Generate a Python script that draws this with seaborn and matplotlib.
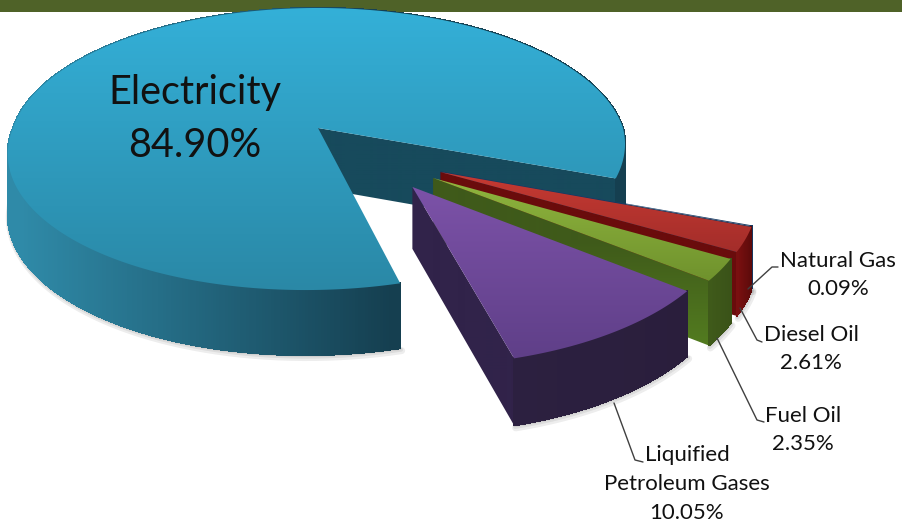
import numpy as np
import matplotlib
matplotlib.use("Agg")
import matplotlib.pyplot as plt
from matplotlib.colors import to_rgb
from matplotlib.patches import Polygon
import seaborn as sns

# ---- data ----
categories = ["Electricity", "Natural Gas", "Diesel Oil", "Fuel Oil", "Liquified\nPetroleum Gases"]
values = [84.90, 0.09, 2.61, 2.35, 10.05]

# ---- style / layout ----
top_colors = sns.color_palette(["#34b0d8", "#1f4f7a", "#c63a32", "#90b53e", "#7c52a8"])
top_dark = ["#2a88a6", "#17375e", "#a32d2a", "#6f922d", "#5f3f88"]
arc_light = ["#2f8aa8", "#17375e", "#7a1010", "#3f5a1a", "#2c2040"]
arc_dark = ["#153f50", "#17375e", "#5a0a0a", "#3a5218", "#2a1e3c"]
cut_colors = ["#174a5c", "#17375e", "#6a0c0c", "#3f5a1a", "#31234a"]
cut_front = ["#174a5c", "#17375e", "#6a0c0c", "#537c20", "#31234a"]
offsets = [(0.0, 0.0), (0.394, -0.300), (0.394, -0.305), (0.370, -0.344), (0.305, -0.402)]
radii = [1.0, 0.975, 0.975, 0.975, 0.97]
end_angle = -20.3      # where the first slice ends, clockwise
CX, CY = 318.0, 128.0
A, B, K, SHEAR = 137.9, 305.0, 0.149, 0.035
DEPTH = 60.0

sns.set_theme(style="white")
plt.rcParams["font.family"] = ["Lato", "DejaVu Sans"]

fig = plt.figure(figsize=(9.03, 5.26), dpi=100)
ax = fig.add_axes([0, 0, 1, 1])


def proj(u, v, depth=0.0):
    u, v = np.asarray(u, float), np.asarray(v, float)
    w = 1 + K * v
    return np.column_stack([CX + B * (u + SHEAR * np.minimum(v, 0)) / w,
                            CY - A * v / w + depth * DEPTH / np.sqrt(w)])


def gradient_fill(poly, c0, c1, y0, y1, z):
    t = np.clip((np.arange(526) - y0) / (y1 - y0), 0, 1)[:, None, None]
    img = (1 - t) * np.array(to_rgb(c0))[None, None] + t * np.array(to_rgb(c1))[None, None]
    im = ax.imshow(img, extent=[0, 903, 526, 0], aspect="auto", zorder=z, interpolation="bilinear")
    im.set_clip_path(Polygon(poly, closed=True, transform=ax.transData))


# header band
ax.fill_between([0, 903], 0, 12, color="#4f6228", lw=0, zorder=1)

# slices run clockwise starting so that the first one ends at end_angle
sweeps = np.array(values) / 100 * 360
start = end_angle + sweeps[0]
z = 2
for i, sweep in enumerate(sweeps):
    a0, a1 = start, start - sweep
    start = a1
    ang = np.radians(np.linspace(a0, a1, max(int(sweep * 2), 12)))
    cu, cv = offsets[i]
    r = radii[i]
    au, av = cu + r * np.cos(ang), cv + r * np.sin(ang)
    apex_top = proj([cu], [cv])
    apex_bot = proj([cu], [cv], 1)
    arc_top = proj(au, av)
    arc_bot = proj(au, av, 1)

    # soft ground shadow under the outer wall
    sel = arc_bot[np.sin(ang) < 0.1] if i else arc_bot[(np.degrees(ang) > 170)]
    for s in (5, 3, 1.5):
        ax.plot(sel[:, 0] + 0.3 * s, sel[:, 1] + 0.5 * s, color="#000000", alpha=0.07, lw=s,
                zorder=z, solid_capstyle="round")
    z += 0.1

    # cut face at the clockwise end
    cut = np.vstack([apex_top, arc_top[-1], arc_bot[-1], apex_bot])
    gradient_fill(cut, cut_colors[i], cut_front[i], arc_top[-1, 1] - 40, arc_bot[-1, 1], z)
    z += 0.1

    # outer wall as many small quads, shaded by screen position
    xs = arc_top[:, 0]
    xmin, xmax = xs.min(), xs.max()
    c0, c1 = np.array(to_rgb(arc_light[i])), np.array(to_rgb(arc_dark[i]))
    for j in range(len(ang) - 1):
        t = (0.5 * (xs[j] + xs[j + 1]) - xmin) / max(xmax - xmin, 1)
        if i == 0:
            t = np.clip((0.5 * (xs[j] + xs[j + 1]) - 20) / 370, 0, 1)
        col = (1 - t) * c0 + t * c1
        quad = np.vstack([arc_top[j], arc_top[j + 1], arc_bot[j + 1], arc_bot[j]])
        ax.add_patch(Polygon(quad, closed=True, fc=col, ec=col, lw=0.8, antialiased=False, zorder=z))
    z += 0.1

    # top face
    face = np.vstack([apex_top, arc_top])
    y0, y1 = face[:, 1].min(), face[:, 1].max()
    gradient_fill(face, top_colors[i], top_dark[i], y0, y1, z)
    z += 0.1

# leader lines
leaders = {
    1: ([748, 772, 778], [289, 267, 267]),
    2: ([740, 757, 762], [308, 340, 342]),
    3: ([717, 757, 764], [338, 420, 422]),
    4: ([614, 635, 643], [403, 460, 462]),
}
for i, (lx, ly) in leaders.items():
    ax.plot(lx, ly, color="#404040", lw=1.0, zorder=20, solid_joinstyle="round")

# labels
positions = [(195, 119, 28.5), (838, 275, 16), (811, 349, 16), (803, 430, 16), (687, 484, 16)]
for (name, val, (x, y, fs)) in zip(categories, values, positions):
    ax.text(x, y, f"{name}\n{val:.2f}%", ha="center", va="center", fontsize=fs,
            color="#111111", linespacing=1.55, zorder=30)

ax.set_xlim(0, 903)
ax.set_ylim(526, 0)
ax.axis("off")
fig.savefig("out.png", dpi=100, facecolor="white")
